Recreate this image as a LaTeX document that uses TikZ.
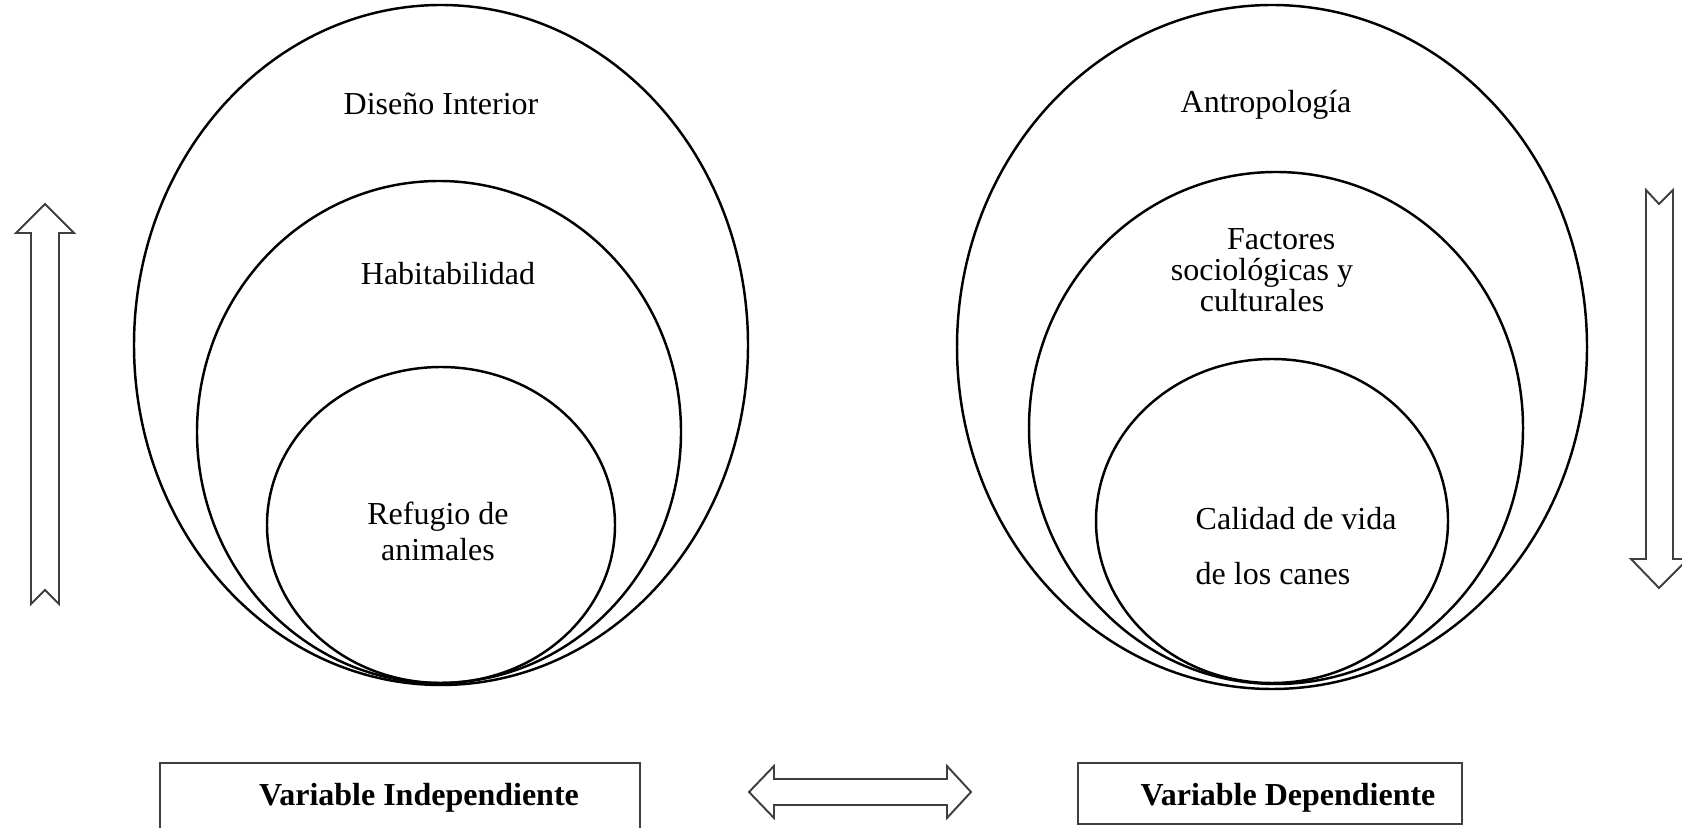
\documentclass[tikz,border=0pt]{standalone}
\usepackage{fontspec}
\setmainfont{Liberation Serif}
\definecolor{linegray}{HTML}{3F3F3F}

\begin{document}
\begin{tikzpicture}[x=0.01cm,y=-0.01cm,
	ring/.style={line width=0.7pt},
	blockarrow/.style={draw=linegray,line width=0.55pt,line join=miter},
	varbox/.style={draw=linegray,line width=0.6pt},
	lbl/.style={font=\fontsize{9.1}{10}\selectfont,inner sep=0pt,anchor=base},
	varlbl/.style={font=\bfseries\fontsize{9.1}{10}\selectfont,inner sep=0pt,anchor=base}]
	\clip (0,0) rectangle (1682,828);
	% independent variable rings
	\draw[ring] (441,345) ellipse [x radius=307, y radius=340];
	\draw[ring] (439,432) ellipse [x radius=242, y radius=251];
	\draw[ring] (441,525) ellipse [x radius=174, y radius=158];
	% dependent variable rings
	\draw[ring] (1272,347) ellipse [x radius=315, y radius=342];
	\draw[ring] (1276,428) ellipse [x radius=247, y radius=256];
	\draw[ring] (1272,521) ellipse [x radius=176, y radius=162];
	\node[lbl] (disenio) at (441,115) {Diseño Interior};
	\node[lbl] (habitab) at (448,285) {Habitabilidad};
	\node[lbl,align=center,font=\fontsize{9.1}{10.3}\selectfont] (refugio) at (438,561) {Refugio de\\animales};
	\node[lbl] (antropo) at (1266,113) {Antropología};
	\node[lbl,align=center,font=\fontsize{9.1}{8.9}\selectfont] (factores) at (1262,312) {\hspace*{1.2em}Factores\\sociológicas y\\culturales};
	\node[lbl,align=left,font=\fontsize{9.1}{15.5}\selectfont,anchor=base west] (calidad) at (1195,584) {Calidad de vida\\de los canes};
	% block arrows
	\draw[blockarrow] (45,204) -- (74,233) -- (59,233) -- (59,604) -- (45,590) -- (31,604) -- (31,233) -- (16,233) -- cycle;
	\draw[blockarrow] (1646,190) -- (1659,204) -- (1673,190) -- (1673,559) -- (1688,559) -- (1659,588) -- (1631,559) -- (1646,559) -- cycle;
	\draw[blockarrow] (749,792) -- (774,766) -- (774,779) -- (947,779) -- (947,766) -- (971,792) -- (947,818) -- (947,805) -- (774,805) -- (774,818) -- cycle;
	% variable boxes
	\draw[varbox] (160,763) rectangle (640,850);
	\draw[varbox] (1078,763) rectangle (1462,824);
	\node[varlbl] (indep) at (419,805) {Variable Independiente};
	\node[varlbl] (depen) at (1288,805) {Variable Dependiente};
\end{tikzpicture}
\end{document}
